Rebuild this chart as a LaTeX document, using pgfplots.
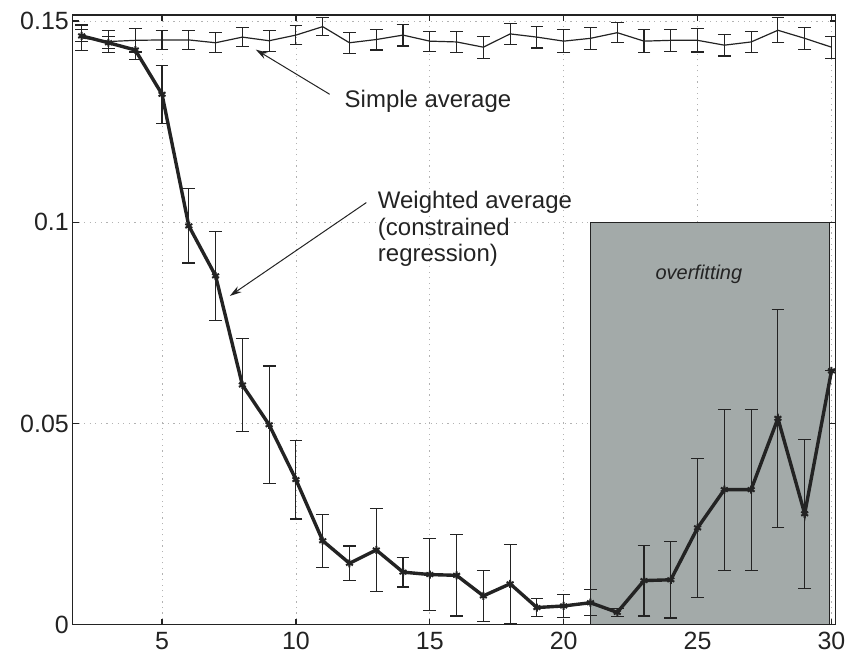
\documentclass[border=0pt]{standalone}
\usepackage{pgfplots}
\pgfplotsset{compat=1.18}
\usepackage{fontspec}
\setmainfont{Liberation Sans}
\usetikzlibrary{arrows.meta}

\definecolor{ink}{RGB}{35,35,35}
\definecolor{shade}{RGB}{163,170,169}

\pgfplotstableread{
x y err
2 0.1458 0.0032
3 0.1449 0.0028
4 0.1452 0.0029
5 0.1453 0.0024
6 0.1453 0.0024
7 0.1446 0.0025
8 0.1460 0.0023
9 0.1451 0.0026
10 0.1465 0.0023
11 0.1486 0.0022
12 0.1446 0.0026
13 0.1454 0.0026
14 0.1465 0.0027
15 0.1450 0.0025
16 0.1448 0.0027
17 0.1435 0.0027
18 0.1468 0.0026
19 0.1460 0.0027
20 0.1450 0.0029
21 0.1457 0.0027
22 0.1471 0.0025
23 0.1450 0.0029
24 0.1452 0.0027
25 0.1452 0.0029
26 0.1440 0.0027
27 0.1448 0.0027
28 0.1477 0.0031
29 0.1457 0.0027
30 0.1435 0.0027
}\simpleavg

\pgfplotstableread{
x y err
2 0.1463 0.0015
3 0.1446 0.0015
4 0.1428 0.0023
5 0.1318 0.0072
6 0.0991 0.0092
7 0.0867 0.0110
8 0.0596 0.0116
9 0.0497 0.0146
10 0.0361 0.0098
11 0.0209 0.0066
12 0.0153 0.0043
13 0.0186 0.0103
14 0.0131 0.0037
15 0.0125 0.0090
16 0.0123 0.0101
17 0.0072 0.0063
18 0.0102 0.0098
19 0.0043 0.0022
20 0.0047 0.0028
21 0.0055 0.0032
22 0.0031 0.0010
23 0.0110 0.0088
24 0.0112 0.0095
25 0.0241 0.0172
26 0.0336 0.0200
27 0.0336 0.0200
28 0.0513 0.0271
29 0.0276 0.0185
30 0.0631 0.0000
}\weighted

\begin{document}
\begin{tikzpicture}[font=\fontsize{12}{14}\selectfont]
\begin{axis}[
  scale only axis,
  width=382pt, height=305.5pt,
  xmin=1.67, xmax=30.15,
  ymin=0, ymax=0.1515,
  xtick={5,10,15,20,25,30},
  ytick={0,0.05,0.1,0.15},
  scaled y ticks=false,
  /pgf/number format/fixed,
  /pgf/number format/precision=2,
  /pgf/number format/assume math mode=true,
  tick label style={text=ink, font=\fontsize{12.5}{15}\selectfont},
  yticklabel style={xshift=1.5pt},
  tick align=inside, tick pos=both,
  major tick length=3pt,
  axis line style={ink, line width=0.6pt},
  every tick/.style={ink, line width=0.6pt},
  grid=major,
  grid style={gray!60, dash pattern=on 0.6pt off 2.2pt},
  error bars/error bar style={line width=0.55pt},
]
% shaded overfitting region
\addplot[draw=ink, line width=0.6pt, fill=shade] coordinates {(21,0) (21,0.1) (29.93,0.1) (29.93,0)} -- cycle;

% simple average
\addplot[ink, line width=0.6pt, no markers,
  error bars/.cd, y dir=both, y explicit,
  error mark options={ink, line width=0.55pt, mark size=3.2pt, rotate=90}]
  table[x=x, y=y, y error=err] {\simpleavg};

% weighted average
\addplot[ink, line width=1.7pt, mark=asterisk, mark size=2pt,
  mark options={line width=1pt},
  error bars/.cd, y dir=both, y explicit,
  error bar style={line width=0.55pt},
  error mark options={ink, line width=0.55pt, mark size=3.2pt, rotate=90}]
  table[x=x, y=y, y error=err] {\weighted};

\node[anchor=west, text=ink] at (axis cs:11.56,0.1301) {Simple average};
\draw[ink, line width=0.5pt, -{Stealth[length=6pt,width=3.5pt]}]
  (axis cs:11.26,0.1318) -- (axis cs:8.5,0.1429);

\node[anchor=north west, text=ink, align=left, inner sep=0pt,
  font=\fontsize{12}{13.3}\selectfont] at (axis cs:13.05,0.1078)
  {Weighted average\\(constrained\\regression)};
\draw[ink, line width=0.5pt, -{Stealth[length=6pt,width=3.5pt]}]
  (axis cs:12.63,0.1049) -- (axis cs:7.53,0.0817);

\node[text=ink, font=\fontsize{10}{12}\itshape] at (axis cs:25.05,0.0871) {overfitting};
\end{axis}
\path (current axis.south west) ++(-36.5pt,-17pt);
\path (current axis.north east) ++(7.5pt,7.5pt);
\end{tikzpicture}
\end{document}
